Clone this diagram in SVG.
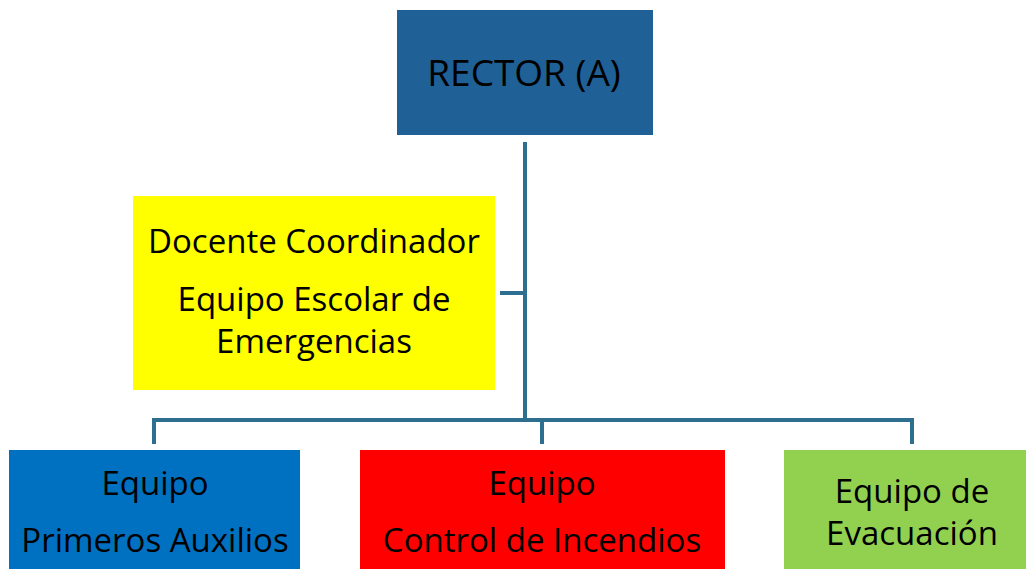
<svg xmlns="http://www.w3.org/2000/svg" width="1026" height="569" viewBox="0 0 1026 569">
<style>
text{font-family:"Open Sans","Noto Sans","DejaVu Sans",sans-serif;fill:#000;text-anchor:middle;font-size:33px}
.c{fill:none;stroke:#2E6F8F;stroke-width:4}
</style>
<rect width="1026" height="569" fill="#fff"/>
<g id="connectors">
<path class="c" d="M525 142V420M500 293H525M154 444V420H912V444M542 420V444"/>
</g>
<g id="rector">
<rect x="397" y="10" width="256" height="125" fill="#1F6096"/>
<text x="524" y="86" style="font-size:37px">RECTOR (A)</text>
</g>
<g id="coordinador">
<rect x="133" y="196" width="362" height="194" fill="#FFFF00"/>
<text x="314" y="253">Docente Coordinador</text>
<text x="314" y="311">Equipo Escolar de</text>
<text x="314" y="353">Emergencias</text>
</g>
<g id="primeros-auxilios">
<rect x="9" y="450" width="291" height="119" fill="#0070C0"/>
<text x="155" y="495">Equipo</text>
<text x="155" y="552">Primeros Auxilios</text>
</g>
<g id="control-incendios">
<rect x="360" y="450" width="365" height="119" fill="#FF0000"/>
<text x="542" y="495">Equipo</text>
<text x="542" y="552">Control de Incendios</text>
</g>
<g id="evacuacion">
<rect x="784" y="450" width="242" height="119" fill="#92D050"/>
<text x="912" y="503">Equipo de</text>
<text x="912" y="545">Evacuación</text>
</g>
</svg>
